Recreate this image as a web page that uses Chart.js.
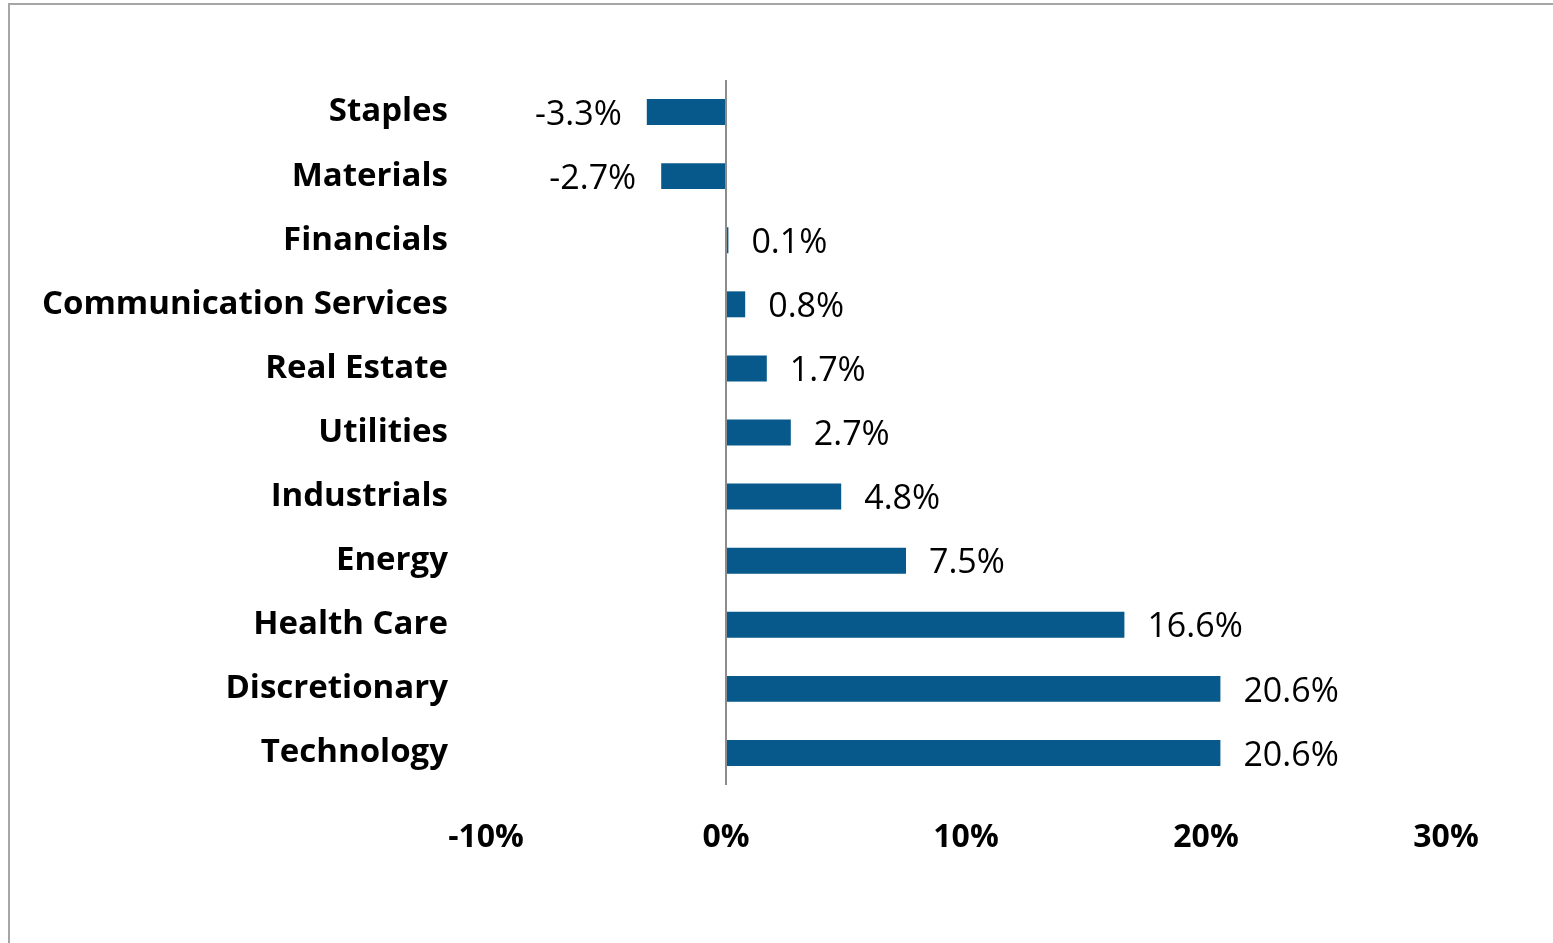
<!DOCTYPE html>
<html>
<head>
<meta charset="utf-8">
<script src="https://cdn.jsdelivr.net/npm/chart.js@4/dist/chart.umd.min.js"></script>
<style>
  html, body { margin: 0; padding: 0; background: #fff; overflow: hidden; }
  #wrap { position: absolute; left: 0; top: 0; width: 1553px; height: 943px; }
  #frame { position: absolute; left: 8px; top: 3px; width: 1600px; height: 1000px;
           border-left: 2px solid #a6a6a6; border-top: 2px solid #a6a6a6; pointer-events: none; }
</style>
</head>
<body>
<div id="wrap"><canvas id="c" width="1553" height="943"></canvas></div>
<div id="frame"></div>
<script>
const categories = ["Staples", "Materials", "Financials", "Communication Services", "Real Estate",
  "Utilities", "Industrials", "Energy", "Health Care", "Discretionary", "Technology"];
const returns = [-3.3, -2.7, 0.1, 0.8, 1.7, 2.7, 4.8, 7.5, 16.6, 20.6, 20.6];
const xTicks = [-10, 0, 10, 20, 30];

const FONT = "'Open Sans', 'Noto Sans', sans-serif";
const BAR = "#07598b";

const labelPlugin = {
  id: 'valueLabels',
  afterDatasetsDraw(chart) {
    const ctx = chart.ctx;
    const meta = chart.getDatasetMeta(0);
    ctx.save();
    ctx.font = "400 34px " + FONT;
    ctx.fillStyle = "#000";
    ctx.textBaseline = "middle";
    meta.data.forEach((bar, i) => {
      const v = returns[i];
      const txt = v.toFixed(1) + "%";
      if (v >= 0) {
        ctx.textAlign = "left";
        ctx.fillText(txt, bar.x + 23, bar.y + 3);
      } else {
        ctx.textAlign = "right";
        ctx.fillText(txt, bar.x - 25, bar.y + 3);
      }
    });
    ctx.restore();
  }
};

new Chart(document.getElementById('c'), {
  type: 'bar',
  data: {
    labels: categories,
    datasets: [{
      data: returns,
      backgroundColor: BAR,
      borderWidth: 0,
      categoryPercentage: 1.0,
      barPercentage: 0.405
    }]
  },
  plugins: [labelPlugin],
  options: {
    indexAxis: 'y',
    responsive: false,
    animation: false,
    events: [],
    layout: { padding: { top: 80, right: 107, bottom: 40, left: 0 } },
    plugins: { legend: { display: false }, tooltip: { enabled: false } },
    scales: {
      x: {
        min: -10, max: 30,
        afterBuildTicks(axis) { axis.ticks = xTicks.map(v => ({ value: v })); },
        afterFit(axis) { axis.height = 943 - 785 - 40; },
        border: { display: false },
        grid: {
          drawTicks: false,
          color: (c) => (c.tick && c.tick.value === 0) ? '#8c8c8c' : 'rgba(0,0,0,0)',
          lineWidth: 2
        },
        ticks: {
          padding: 34,
          color: '#000',
          font: { family: FONT, size: 32, weight: 'bold' },
          callback: (v) => v + '%'
        }
      },
      y: {
        afterFit(axis) { axis.width = 486; },
        border: { display: false },
        grid: { display: false, drawTicks: false },
        ticks: {
          padding: 38,
          color: '#000',
          font: { family: FONT, size: 33, weight: 'bold' }
        }
      }
    }
  }
});
</script>
</body>
</html>
